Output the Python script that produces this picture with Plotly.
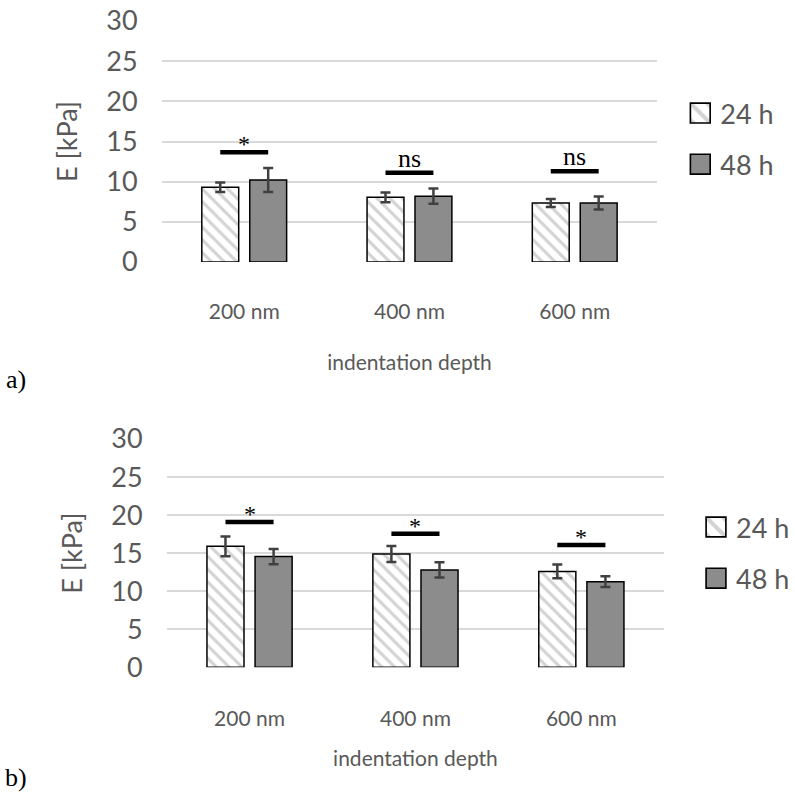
import plotly.graph_objects as go

categories = ["200 nm", "400 nm", "600 nm"]
series_names = ["24 h", "48 h"]

# panel a)
a_24h = [9.3, 8.05, 7.35]
a_24h_err = [0.6, 0.6, 0.5]
a_48h = [10.2, 8.2, 7.35]
a_48h_err = [1.5, 0.95, 0.8]
a_sig_level = [13.65, 11.1, 11.3]
a_sig_label = ["*", "ns", "ns"]

# panel b)
b_24h = [15.9, 14.9, 12.6]
b_24h_err = [1.3, 1.05, 0.9]
b_48h = [14.55, 12.8, 11.25]
b_48h_err = [1.0, 1.0, 0.7]
b_sig_level = [19.1, 17.55, 16.07]
b_sig_label = ["*", "*", "*"]

y_ticks = [0, 5, 10, 15, 20, 25, 30]
panel_labels = ["a)", "b)"]
x_title = "indentation depth"
y_title = "E [kPa]"

TXT = "#595959"
FONT = "Lato"
xpos = list(range(len(categories)))

fig = go.Figure()

panels = [
    (a_24h, a_24h_err, a_48h, a_48h_err, "x", "y", "legend"),
    (b_24h, b_24h_err, b_48h, b_48h_err, "x2", "y2", "legend2"),
]

for v24, e24, v48, e48, xa, ya, lg in panels:
    fig.add_trace(go.Bar(
        x=xpos, y=v24, name=series_names[0], xaxis=xa, yaxis=ya, legend=lg,
        legendgroup=lg + "a", offsetgroup="a",
        marker=dict(color="white", line=dict(color="black", width=1.5),
                    pattern=dict(shape="\\", fgcolor="#a8a8a8", bgcolor="white",
                                 size=9, solidity=0.35)),
        error_y=dict(type="data", array=e24, color="#404040", thickness=2.5, width=5),
    ))
    fig.add_trace(go.Bar(
        x=xpos, y=v48, name=series_names[1], xaxis=xa, yaxis=ya, legend=lg,
        legendgroup=lg + "b", offsetgroup="b",
        marker=dict(color="#8c8c8c", line=dict(color="black", width=1.5)),
        error_y=dict(type="data", array=e48, color="#404040", thickness=2.5, width=5),
    ))

# significance bars and labels
half = 0.145
for levels, labels, xa, ya in [(a_sig_level, a_sig_label, "x", "y"),
                               (b_sig_level, b_sig_label, "x2", "y2")]:
    for i, (lv, lb) in enumerate(zip(levels, labels)):
        fig.add_shape(type="line", xref=xa, yref=ya, x0=i - half, x1=i + half,
                      y0=lv, y1=lv, line=dict(color="black", width=4.5))
        fig.add_annotation(xref=xa, yref=ya, x=i, y=lv, text=lb, showarrow=False,
                           xanchor="center", yanchor="bottom",
                           yshift=(-7 if lb == "*" else -2),
                           font=dict(family="Liberation Serif", size=(24 if lb == "*" else 26),
                                     color="black"))

xdom_a = [162 / 795, 659 / 795]
ydom_a = [1 - 262 / 801, 1 - 21 / 801]
xdom_b = [167 / 795, 666 / 795]
ydom_b = [1 - 667.3 / 801, 1 - 439 / 801]

def xaxis_cfg(dom, anchor, lab_off, title_off):
    return dict(domain=dom, anchor=anchor, range=[-0.5, 2.5], tickvals=xpos,
                ticktext=categories, showgrid=False, zeroline=False, showline=False,
                ticks="", tickfont=dict(family=FONT, size=21, color=TXT),
                ticklabelstandoff=lab_off, automargin=False,
                title=dict(text=x_title, font=dict(family=FONT, size=21, color=TXT),
                           standoff=title_off))

def yaxis_cfg(dom, anchor):
    return dict(domain=dom, anchor=anchor, range=[0, 30], tickvals=y_ticks,
                showgrid=True, gridcolor="#d9d9d9", gridwidth=1.5, zeroline=False,
                showline=False, ticks="", tickfont=dict(family=FONT, size=27, color=TXT),
                ticklabelstandoff=23, automargin=False,
                title=dict(text=y_title, font=dict(family=FONT, size=27, color=TXT), standoff=20))

fig.update_layout(
    width=795, height=801,
    margin=dict(l=0, r=0, t=0, b=0),
    paper_bgcolor="white", plot_bgcolor="white",
    barmode="group", bargap=0.42, bargroupgap=0.23,
    xaxis=xaxis_cfg(xdom_a, "y", 35, 33), yaxis=yaxis_cfg(ydom_a, "x"),
    xaxis2=xaxis_cfg(xdom_b, "y2", 37, 22), yaxis2=yaxis_cfg(ydom_b, "x2"),
    legend=dict(x=682 / 795, y=1 - 139 / 801, xanchor="left", yanchor="middle",
                font=dict(family=FONT, size=27, color=TXT), tracegroupgap=13,
                bgcolor="rgba(0,0,0,0)"),
    legend2=dict(x=698 / 795, y=1 - 553 / 801, xanchor="left", yanchor="middle",
                 font=dict(family=FONT, size=27, color=TXT), tracegroupgap=13,
                 bgcolor="rgba(0,0,0,0)"),
    showlegend=True,
)

fig.add_annotation(xref="paper", yref="paper", x=16 / 795, y=1 - 379 / 801,
                   xanchor="center", yanchor="middle",
                   text=panel_labels[0], showarrow=False,
                   font=dict(family="Liberation Serif", size=26, color="black"))
fig.add_annotation(xref="paper", yref="paper", x=16 / 795, y=1 - 777 / 801,
                   xanchor="center", yanchor="middle",
                   text=panel_labels[1], showarrow=False,
                   font=dict(family="Liberation Serif", size=26, color="black"))

post = """
document.body.style.margin = '0px';
var gd = document.getElementById('{plot_id}');
gd.querySelectorAll('.legendpoints path').forEach(function (p) {
    var t = p.getAttribute('transform') || '';
    p.setAttribute('transform', t + ' scale(1.65)');
    p.style.strokeWidth = '1px';
});
"""

fig.write_html("out.html", post_script=post, config={"displayModeBar": False})
